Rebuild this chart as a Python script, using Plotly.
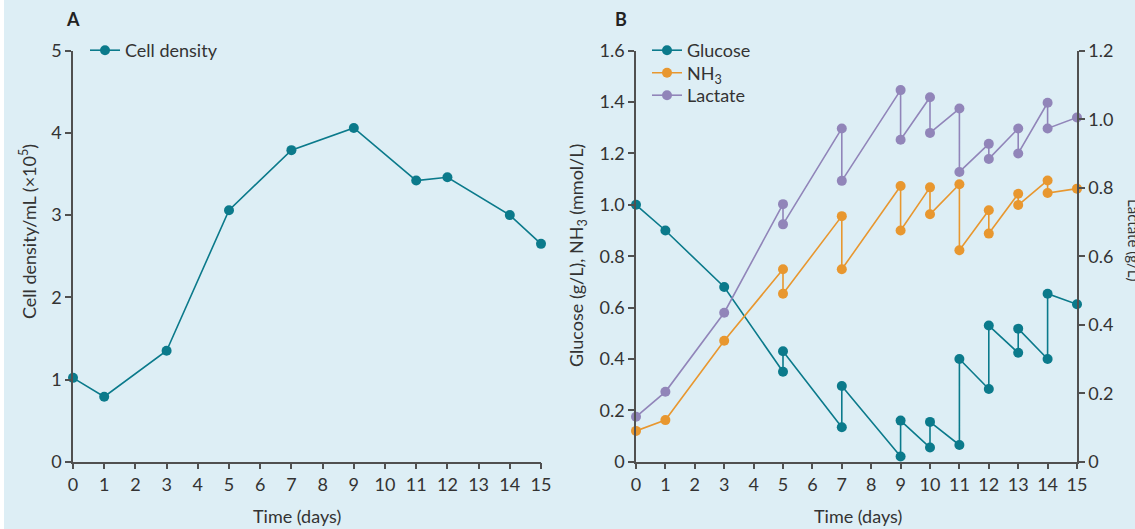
import plotly.graph_objects as go

# ---------------- data ----------------
days_a = [0, 1, 3, 5, 7, 9, 11, 12, 14, 15]
cell_density = [1.02, 0.79, 1.35, 3.06, 3.79, 4.06, 3.42, 3.46, 3.00, 2.65]

days_b = [0, 1, 3, 5, 5, 7, 7, 9, 9, 10, 10, 11, 11, 12, 12, 13, 13, 14, 14, 15]
glucose = [1.00, 0.90, 0.68, 0.35, 0.43, 0.134, 0.295, 0.02, 0.16, 0.055, 0.155,
           0.065, 0.40, 0.283, 0.53, 0.424, 0.518, 0.40, 0.654, 0.613]
nh3 = [0.12, 0.162, 0.471, 0.749, 0.654, 0.956, 0.749, 1.073, 0.90, 1.068, 0.963,
       1.08, 0.823, 0.979, 0.888, 1.043, 0.999, 1.095, 1.046, 1.063]
lactate = [0.131, 0.204, 0.435, 0.752, 0.693, 0.973, 0.820, 1.085, 0.940, 1.064, 0.960,
           1.031, 0.846, 0.928, 0.884, 0.973, 0.900, 1.048, 0.973, 1.005]

x_ticks = list(range(0, 16))
ya_ticks = [0, 1, 2, 3, 4, 5]
yb_ticks = [0, 0.2, 0.4, 0.6, 0.8, 1.0, 1.2, 1.4, 1.6]
yb_labels = ["0", "0.2", "0.4", "0.6", "0.8", "1.0", "1.2", "1.4", "1.6"]
yc_ticks = [0, 0.2, 0.4, 0.6, 0.8, 1.0, 1.2]
yc_labels = ["0", "0.2", "0.4", "0.6", "0.8", "1.0", "1.2"]

# ---------------- style ----------------
W, H = 1135, 529
BG = "#ddeef5"
TEAL = "#0b7a8b"
ORANGE = "#e8972f"
PURPLE = "#9185b9"
TXT = "#333333"
AX = "#505050"
FONT = "Lato"
FS = 18


def px(x):
    return x / W


def py(y):
    return 1 - y / H


fig = go.Figure()

mk = dict(size=10)
ln = dict(width=1.6)

fig.add_trace(go.Scatter(x=days_a, y=cell_density, mode="lines+markers", name="Cell density",
                         line=dict(color=TEAL, **ln), marker=dict(color=TEAL, **mk),
                         xaxis="x", yaxis="y", legend="legend", cliponaxis=False))
fig.add_trace(go.Scatter(x=days_b, y=glucose, mode="lines+markers", name="Glucose",
                         line=dict(color=TEAL, **ln), marker=dict(color=TEAL, **mk),
                         xaxis="x2", yaxis="y2", legend="legend2", cliponaxis=False))
fig.add_trace(go.Scatter(x=days_b, y=nh3, mode="lines+markers", name="NH<sub>3</sub>",
                         line=dict(color=ORANGE, **ln), marker=dict(color=ORANGE, **mk),
                         xaxis="x2", yaxis="y2", legend="legend3", cliponaxis=False))
fig.add_trace(go.Scatter(x=days_b, y=lactate, mode="lines+markers", name="Lactate",
                         line=dict(color=PURPLE, **ln), marker=dict(color=PURPLE, **mk),
                         xaxis="x2", yaxis="y3", legend="legend4", cliponaxis=False))

y_dom = [py(461.7), py(50.7)]
tickfont = dict(family=FONT, size=FS, color=TXT)
common_x = dict(range=[0, 15], tickvals=x_ticks, ticks="outside", ticklen=6, tickwidth=1.5,
                tickcolor=AX, showline=True, linecolor=AX, linewidth=1.5, showgrid=False,
                zeroline=False, tickfont=tickfont, fixedrange=True, automargin=False)
common_y = dict(ticks="outside", ticklen=6, tickwidth=1.5, tickcolor=AX, showline=True,
                linecolor=AX, linewidth=1.5, showgrid=False, zeroline=False,
                tickfont=tickfont, domain=y_dom, fixedrange=True, automargin=False)


def leg(x, y):
    return dict(x=px(x), y=py(y), xanchor="left", yanchor="top", bgcolor="rgba(0,0,0,0)",
                font=dict(family=FONT, size=FS, color=TXT))


fig.update_layout(
    width=W, height=H,
    margin=dict(l=0, r=0, t=0, b=0, autoexpand=False),
    paper_bgcolor=BG, plot_bgcolor=BG,
    font=dict(family=FONT, color=TXT, size=FS),
    xaxis=dict(domain=[px(73), px(541)], anchor="y", **common_x),
    yaxis=dict(anchor="x", range=[0, 5], tickvals=ya_ticks, **common_y),
    xaxis2=dict(domain=[px(636), px(1077)], anchor="y2", **common_x),
    yaxis2=dict(anchor="x2", range=[0, 1.6], tickvals=yb_ticks, ticktext=yb_labels, **common_y),
    yaxis3=dict(anchor="x2", overlaying="y2", side="right", range=[0, 1.2],
                tickvals=yc_ticks, ticktext=yc_labels, **common_y),
    legend=leg(85, 32),
    legend2=leg(647, 32),
    legend3=leg(647, 54.5),
    legend4=leg(647, 77),
    showlegend=True,
    shapes=[dict(type="rect", xref="paper", yref="paper", x0=0, x1=px(4), y0=0, y1=1,
                 fillcolor="white", line=dict(width=0), layer="below")],
)

ann = [
    dict(text="<b>A</b>", x=px(73), y=py(19), xanchor="center", yanchor="middle",
         font=dict(family=FONT, size=FS, color="#222")),
    dict(text="<b>B</b>", x=px(621), y=py(19), xanchor="center", yanchor="middle",
         font=dict(family=FONT, size=FS, color="#222")),
    dict(text="Time (days)", x=px(297), y=py(516), xanchor="center", yanchor="middle",
         font=dict(family=FONT, size=FS, color=TXT)),
    dict(text="Time (days)", x=px(858), y=py(516), xanchor="center", yanchor="middle",
         font=dict(family=FONT, size=FS, color=TXT)),
    dict(text="Cell density/mL (×10<sup>5</sup>)", x=px(28), y=py(232), textangle=-90,
         xanchor="center", yanchor="middle", font=dict(family=FONT, size=FS, color=TXT)),
    dict(text="Glucose (g/L), NH<sub>3</sub> (mmol/L)", x=px(578), y=py(256), textangle=-90,
         xanchor="center", yanchor="middle", font=dict(family=FONT, size=FS, color=TXT)),
    dict(text="Lactate (g/L)", x=px(1134), y=py(240), textangle=90,
         xanchor="center", yanchor="middle", font=dict(family=FONT, size=15, color=TXT)),
]
for a in ann:
    a.update(xref="paper", yref="paper", showarrow=False)
fig.update_layout(annotations=ann)

fig.write_html("out.html", config={"displayModeBar": False},
               post_script="document.body.style.margin='0';document.body.style.overflow='hidden';")
